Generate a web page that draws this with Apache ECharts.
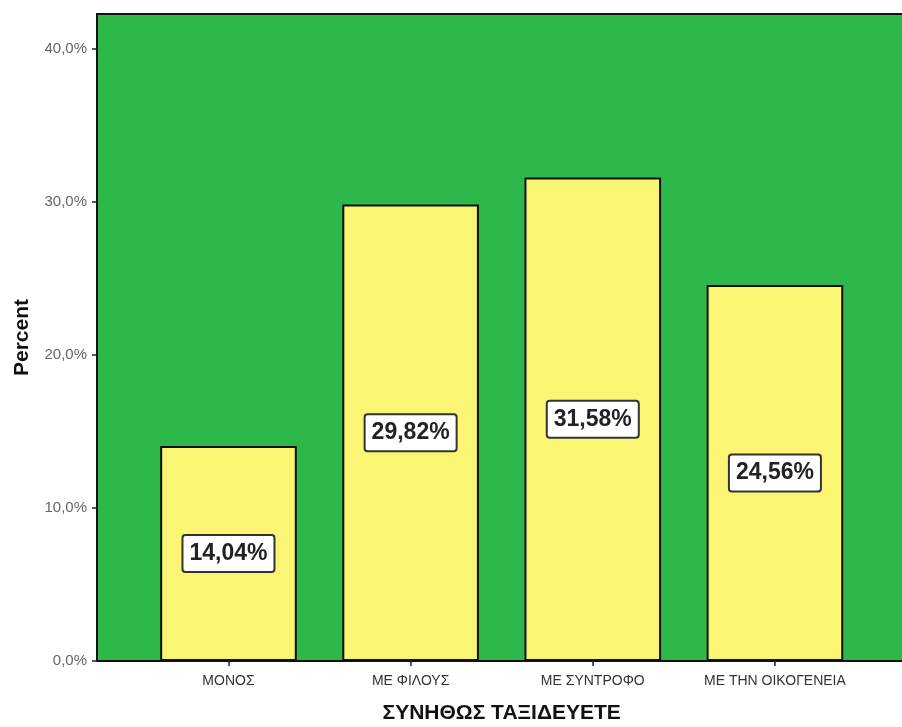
<!DOCTYPE html>
<html>
<head>
<meta charset="utf-8">
<script src="https://cdn.jsdelivr.net/npm/echarts@6/dist/echarts.min.js"></script>
<style>html,body{margin:0;padding:0;background:#fff}#c{width:902px;height:727px}</style>
</head>
<body>
<div id="c"></div>
<script>
const categories = ['ΜΟΝΟΣ', 'ΜΕ ΦΙΛΟΥΣ', 'ΜΕ ΣΥΝΤΡΟΦΟ', 'ΜΕ ΤΗΝ ΟΙΚΟΓΕΝΕΙΑ'];
const percentValues = [14.04, 29.82, 31.58, 24.56];
const yTicks = [0, 10, 20, 30, 40];
const xAxisTitle = 'ΣΥΝΗΘΩΣ ΤΑΞΙΔΕΥΕΤΕ';
const yAxisTitle = 'Percent';

const FONT = '"Liberation Sans", Arial, sans-serif';
const fmtPct = v => v.toFixed(1).replace('.', ',') + '%';

const chart = echarts.init(document.getElementById('c'), null, {renderer: 'canvas'});
chart.setOption({
  animation: false,
  backgroundColor: '#ffffff',
  grid: [
    {left: 97, top: 14, right: -6, bottom: 66, outerBoundsMode: 'none', containLabel: false, show: true, backgroundColor: '#2eb84b', borderColor: '#111', borderWidth: 2},
    {left: 137.4, top: 48.5, right: 36, bottom: 66, outerBoundsMode: 'none', containLabel: false}
  ],
  xAxis: [
    {gridIndex: 0, type: 'value', show: false, min: 0, max: 1},
    {
      gridIndex: 1, type: 'category', data: categories,
      name: xAxisTitle, nameLocation: 'middle', nameGap: 42,
      nameTextStyle: {fontFamily: FONT, fontSize: 21, fontWeight: 'bold', color: '#111'},
      axisLine: {show: false},
      axisTick: {show: true, alignWithLabel: true, length: 5, lineStyle: {color: '#222', width: 1.5}},
      axisLabel: {interval: 0, fontFamily: FONT, fontSize: 14, color: '#333', margin: 13}
    }
  ],
  yAxis: [
    {
      gridIndex: 0, type: 'value', min: 0, max: 1,
      name: yAxisTitle, nameLocation: 'middle', nameGap: 64,
      nameTextStyle: {fontFamily: FONT, fontSize: 21, fontWeight: 'bold', color: '#111'},
      axisLine: {show: false}, axisTick: {show: false}, axisLabel: {show: false}, splitLine: {show: false}
    },
    {
      gridIndex: 1, type: 'value', min: yTicks[0], max: yTicks[yTicks.length - 1], interval: 10,
      offset: 40.4,
      axisLine: {show: false},
      axisTick: {show: true, length: 5, lineStyle: {color: '#222', width: 1.5}},
      axisLabel: {fontFamily: FONT, fontSize: 15, color: '#666', margin: 10, formatter: v => fmtPct(v)},
      splitLine: {show: false}
    }
  ],
  series: [{
    type: 'bar',
    xAxisIndex: 1, yAxisIndex: 1,
    data: percentValues,
    barWidth: '75%',
    itemStyle: {color: '#faf572', borderColor: '#111', borderWidth: 2},
    label: {
      show: true, position: 'inside',
      formatter: p => p.value.toFixed(2).replace('.', ',') + '%',
      fontFamily: FONT, fontSize: 23, fontWeight: 'bold', color: '#222',
      backgroundColor: '#ffffff', borderColor: '#333', borderWidth: 2, borderRadius: 2,
      padding: [7, 6, 5, 6]
    }
  }]
});
</script>
</body>
</html>
